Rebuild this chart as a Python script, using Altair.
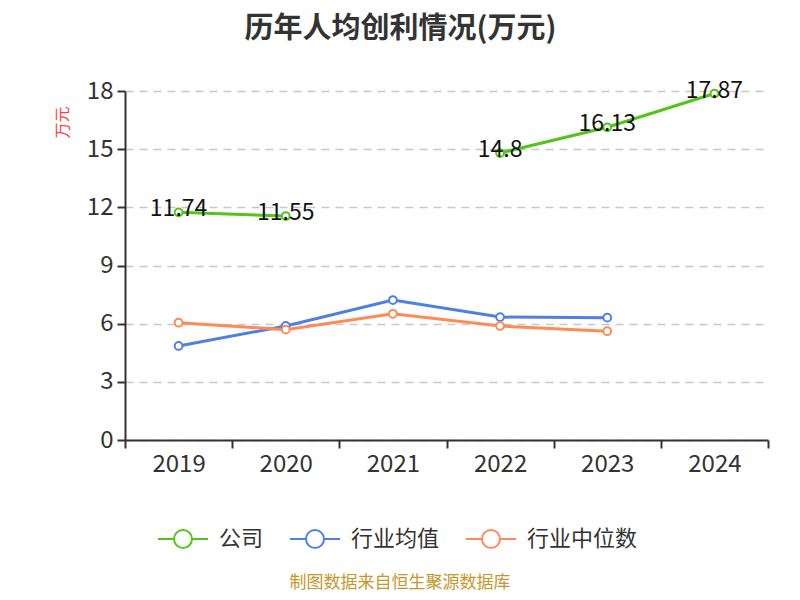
import altair as alt
import pandas as pd

years = ["2019", "2020", "2021", "2022", "2023", "2024"]
company = [11.74, 11.55, None, 14.8, 16.13, 17.87]
ind_mean = [4.85, 5.88, 7.22, 6.34, 6.31, None]
ind_median = [6.05, 5.69, 6.51, 5.88, 5.61, None]
series_names = ["公司", "行业均值", "行业中位数"]
colors = ["#52C41A", "#4E80E4", "#FF8A56"]

rows = []
for name, vals in zip(series_names, [company, ind_mean, ind_median]):
    for y, v in zip(years, vals):
        rows.append({"year": y, "series": name, "value": v})
df = pd.DataFrame(rows)
df_valid = df.dropna()

FONT = "Noto Sans CJK SC"

x_enc = alt.X(
    "year:N",
    sort=years,
    bandPosition=0.5,
    scale=alt.Scale(type="band", domain=years, paddingInner=0, paddingOuter=0),
    axis=alt.Axis(
        title=None, tickBand="extent", labelAngle=0, labelFontSize=24,
        labelColor="#333333", labelPadding=4, tickSize=8, tickWidth=2,
        tickColor="#333333", domainColor="#333333", domainWidth=2,
        labelFont=FONT, grid=False,
    ),
)
y_enc = alt.Y(
    "value:Q",
    scale=alt.Scale(domain=[0, 18], nice=False, zero=True),
    axis=alt.Axis(
        values=[0, 3, 6, 9, 12, 15, 18], title="万元", titleAngle=-90,
        titleX=-63, titleY=31, titleAlign="center", titleBaseline="middle",
        titleColor="#FF4040", titleFontSize=16, titleFontWeight="normal",
        titleFont=FONT,
        labelFontSize=24, labelColor="#333333", labelPadding=4, labelFont=FONT,
        tickSize=8, tickWidth=2, tickColor="#333333", domainColor="#333333",
        domainWidth=2, grid=True, gridColor="#C8C8C8", gridDash=[8, 6],
        gridWidth=1.5,
    ),
)
color_enc = alt.Color(
    "series:N",
    scale=alt.Scale(domain=series_names, range=colors),
    legend=alt.Legend(
        title=None, orient="none", direction="horizontal", legendX=32,
        legendY=422, labelFontSize=22, labelColor="#333333", labelFont=FONT,
        symbolType="M-1,0L-0.36,0M0.36,0L1,0M-0.36,0A0.36,0.36 0 1,1 0.36,0A0.36,0.36 0 1,1 -0.36,0Z",
        symbolSize=2500, symbolStrokeWidth=2, symbolFillColor="white",
        labelOffset=10, columnPadding=22, symbolOffset=0,
    ),
)

base = alt.Chart(df)
lines = base.mark_line(strokeWidth=3).encode(
    x=x_enc, y=y_enc, color=color_enc, detail="series:N"
)
points = alt.Chart(df_valid).mark_point(
    shape="circle", filled=True, fill="white", size=60, strokeWidth=2, opacity=1
).encode(
    x=x_enc, y=y_enc, stroke=alt.Stroke("series:N", scale=alt.Scale(domain=series_names, range=colors), legend=None)
)
labels = alt.Chart(df_valid[df_valid["series"] == "公司"]).mark_text(
    fontSize=23, color="#111111", dy=-3, baseline="middle", align="center", font=FONT
).encode(
    x=x_enc, y=y_enc, text=alt.Text("value:Q", format="~g")
)
source = alt.Chart(pd.DataFrame({"t": ["制图数据来自恒生聚源数据库"]})).mark_text(
    fontSize=17, color="#C8962A", font=FONT, align="center", baseline="middle"
).encode(
    x=alt.value(275), y=alt.value(492), text="t:N"
)

chart = alt.layer(lines, points, labels, source).properties(
    width=643, height=349,
    autosize=alt.AutoSizeParams(type="none"),
    padding={"left": 117, "top": 83, "right": 24, "bottom": 152},
    title=alt.TitleParams(
        "历年人均创利情况(万元)", fontSize=29, fontWeight="bold", color="#333333",
        font=FONT, anchor="middle", dx=-46, offset=35,
    ),
).configure_view(stroke=None)

chart.save("out.html", embed_options={"renderer": "svg", "actions": False})
